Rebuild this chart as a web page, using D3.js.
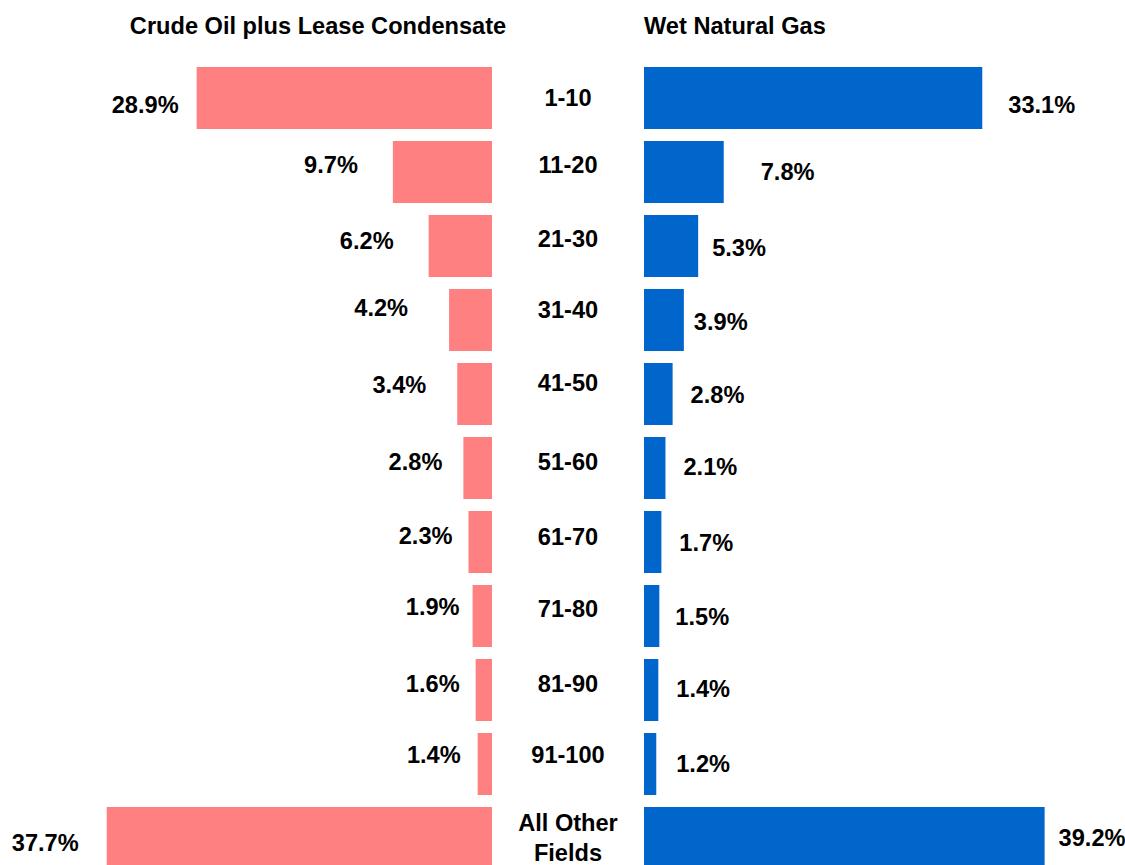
<!DOCTYPE html>
<html>
<head>
<meta charset="utf-8">
<script src="https://cdn.jsdelivr.net/npm/d3@7"></script>
<style>
  body { margin: 0; background: #fff; }
  text { font-family: "Liberation Sans", Arial, sans-serif; font-weight: bold; fill: #000; }
</style>
</head>
<body>
<svg id="chart" width="1125" height="865"></svg>
<script>
// field size groups (top fields ranked by reserves)
var categories = ["1-10", "11-20", "21-30", "31-40", "41-50", "51-60", "61-70", "71-80", "81-90", "91-100", "All Other Fields"];
var oilShare = [28.9, 9.7, 6.2, 4.2, 3.4, 2.8, 2.3, 1.9, 1.6, 1.4, 37.7];
var gasShare = [33.1, 7.8, 5.3, 3.9, 2.8, 2.1, 1.7, 1.5, 1.4, 1.2, 39.2];
var titleOil = "Crude Oil plus Lease Condensate";
var titleGas = "Wet Natural Gas";

// hand placed label nudges (gap from bar end, vertical shift), like the original
var oilLabelGap = [18, 35, 35, 41, 31, 21, 16, 13, 16, 17, 28];
var oilLabelDy = [7, -7, -5, -12, -9, -6, -6, -9, -6, -9, 5];
var gasLabelGap = [26, 37, 14, 10, 18, 18, 18, 16, 18, 20, 14];
var gasLabelDy = [7, 0, 2, 2, 1, -1, 1, 1, -1, 0, 0];
var catDy = [0, -7, -7, -10, -11, -6, -5, -7, -6, -9, 0];

var svg = d3.select("#chart");
var fontSize = 23.6;

var y = d3.scaleBand()
  .domain(categories)
  .range([61, 875])
  .paddingInner(12 / 74)
  .paddingOuter(6 / 74);

var oilRight = 492, gasLeft = 644, pxPerPct = 10.22;
var xOil = d3.scaleLinear().domain([0, 40]).range([oilRight, oilRight - 40 * pxPerPct]);
var xGas = d3.scaleLinear().domain([0, 40]).range([gasLeft, gasLeft + 40 * pxPerPct]);

var rows = categories.map(function (c, i) {
  return { cat: c, oil: oilShare[i], gas: gasShare[i], i: i };
});

// titles
svg.append("text")
  .attr("x", 318).attr("y", 26)
  .attr("text-anchor", "middle")
  .attr("dominant-baseline", "central")
  .style("font-size", fontSize + "px")
  .text(titleOil);

svg.append("text")
  .attr("x", gasLeft).attr("y", 26)
  .attr("dominant-baseline", "central")
  .style("font-size", fontSize + "px")
  .text(titleGas);

// oil bars (going left)
svg.append("g").selectAll("rect")
  .data(rows).enter().append("rect")
  .attr("x", function (d) { return xOil(d.oil); })
  .attr("y", function (d) { return y(d.cat); })
  .attr("width", function (d) { return xOil(0) - xOil(d.oil); })
  .attr("height", y.bandwidth())
  .attr("fill", "#FF8080");

// gas bars (going right)
svg.append("g").selectAll("rect")
  .data(rows).enter().append("rect")
  .attr("x", xGas(0))
  .attr("y", function (d) { return y(d.cat); })
  .attr("width", function (d) { return xGas(d.gas) - xGas(0); })
  .attr("height", y.bandwidth())
  .attr("fill", "#0066CC");

function mid(d) { return y(d.cat) + y.bandwidth() / 2; }

// value labels
svg.append("g").selectAll("text")
  .data(rows).enter().append("text")
  .attr("x", function (d) { return xOil(d.oil) - oilLabelGap[d.i]; })
  .attr("y", function (d) { return mid(d) + oilLabelDy[d.i]; })
  .attr("text-anchor", "end")
  .attr("dominant-baseline", "central")
  .style("font-size", fontSize + "px")
  .text(function (d) { return d.oil.toFixed(1) + "%"; });

svg.append("g").selectAll("text")
  .data(rows).enter().append("text")
  .attr("x", function (d) { return xGas(d.gas) + gasLabelGap[d.i]; })
  .attr("y", function (d) { return mid(d) + gasLabelDy[d.i]; })
  .attr("dominant-baseline", "central")
  .style("font-size", fontSize + "px")
  .text(function (d) { return d.gas.toFixed(1) + "%"; });

// category labels in the middle column
var cx = (oilRight + gasLeft) / 2;
var cat = svg.append("g").selectAll("text")
  .data(rows).enter().append("text")
  .attr("x", cx)
  .attr("y", function (d) { return mid(d) + catDy[d.i]; })
  .attr("text-anchor", "middle")
  .attr("dominant-baseline", "central")
  .style("font-size", fontSize + "px");

cat.each(function (d) {
  var t = d3.select(this);
  if (d.cat === "All Other Fields") {
    t.append("tspan").attr("x", cx).attr("dy", "-0.62em").text("All Other");
    t.append("tspan").attr("x", cx).attr("dy", "1.24em").text("Fields");
  } else {
    t.text(d.cat);
  }
});
</script>
</body>
</html>
